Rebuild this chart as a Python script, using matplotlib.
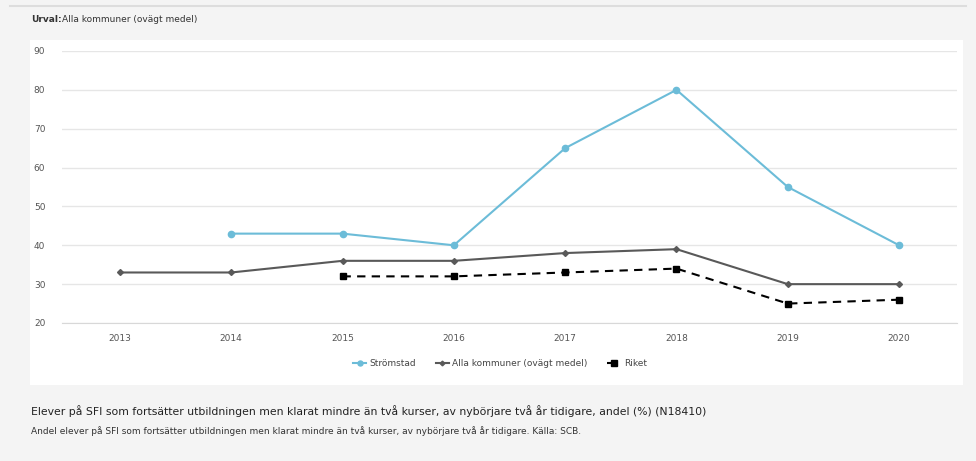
import numpy as np
import matplotlib.pyplot as plt
from matplotlib.lines import Line2D

years = [2013, 2014, 2015, 2016, 2017, 2018, 2019, 2020]
stromstad_years = [2014, 2015, 2016, 2017, 2018, 2019, 2020]
stromstad = [43, 43, 40, 65, 80, 55, 40]
alla_years = [2013, 2014, 2015, 2016, 2017, 2018, 2019, 2020]
alla = [33, 33, 36, 36, 38, 39, 30, 30]
riket_years = [2015, 2016, 2017, 2018, 2019, 2020]
riket = [32, 32, 33, 34, 25, 26]
yticks = [20, 30, 40, 50, 60, 70, 80, 90]

fig = plt.figure(figsize=(9.76, 4.61), dpi=100)
fig.patch.set_facecolor('#f4f4f4')

# white panel behind the chart
bg = fig.add_axes([30/976, 1-385/461, (963-30)/976, (385-40)/461], zorder=0)
bg.set_facecolor('white')
bg.set_xticks([])
bg.set_yticks([])
for s in bg.spines.values():
    s.set_visible(False)

# thin line at top
fig.add_artist(Line2D([0.01, 0.99], [1-6/461, 1-6/461], transform=fig.transFigure,
                      color='#dddddd', lw=1.5))

ax = fig.add_axes([62/976, 1-323/461, (957-62)/976, (323-51)/461], zorder=1)
ax.patch.set_alpha(0)

ax.plot(stromstad_years, stromstad, color='#6cbcd8', lw=1.5, marker='o', ms=4.5,
        label='Strömstad', zorder=4)
ax.plot(alla_years, alla, color='#595959', lw=1.5, marker='D', ms=3,
        label='Alla kommuner (ovägt medel)', zorder=3)
ax.plot(riket_years, riket, color='black', lw=1.5, ls=(0, (4, 3)), marker='s', ms=5,
        label='Riket', zorder=3)

ax.set_xlim(2012.48, 2020.52)
ax.set_ylim(20, 90)
ax.set_xticks(years)
ax.set_yticks(yticks)
ax.tick_params(length=0, labelsize=6.5, colors='#555555')
ax.tick_params(axis='y', pad=12)
ax.tick_params(axis='x', pad=8)
ax.grid(axis='y', color='#e6e6e6', lw=1)
ax.set_axisbelow(True)
for s in ['top', 'right', 'left']:
    ax.spines[s].set_visible(False)
ax.spines['bottom'].set_color('#d8d8d8')

fig.legend(loc='center', bbox_to_anchor=(500/976, 1-364/461), ncol=3, frameon=False,
           fontsize=6.5, handlelength=1.4, columnspacing=2.2, handletextpad=0.4,
           labelcolor='#444444', markerscale=0.8)

fig.text(31/976, 1-19/461, 'Urval:', fontsize=6.5, fontweight='bold', color='#333333',
         va='center')
fig.text(62/976, 1-19/461, 'Alla kommuner (ovägt medel)', fontsize=6.5, color='#333333',
         va='center')

fig.text(31/976, 1-411/461,
         'Elever på SFI som fortsätter utbildningen men klarat mindre än två kurser, '
         'av nybörjare två år tidigare, andel (%) (N18410)',
         fontsize=7.8, color='#222222', va='center')
fig.text(31/976, 1-431/461,
         'Andel elever på SFI som fortsätter utbildningen men klarat mindre än två kurser, '
         'av nybörjare två år tidigare. Källa: SCB.',
         fontsize=6.5, color='#333333', va='center')

plt.savefig('out.png', dpi=100, facecolor=fig.get_facecolor())
